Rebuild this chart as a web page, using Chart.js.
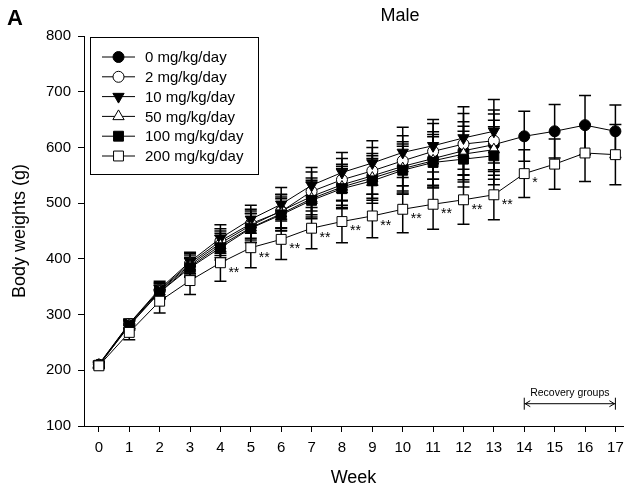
<!DOCTYPE html>
<html>
<head>
<meta charset="utf-8">
<script src="https://cdn.jsdelivr.net/npm/chart.js@4"></script>
<style>
  html, body { margin: 0; padding: 0; background: #fff; }
</style>
</head>
<body>
<canvas id="weightChart" width="631" height="490"></canvas>
<script>
// weeks and y ticks
const weeks = [0, 1, 2, 3, 4, 5, 6, 7, 8, 9, 10, 11, 12, 13, 14, 15, 16, 17];
const yTicks = [100, 200, 300, 400, 500, 600, 700, 800];
const groups = ["0 mg/kg/day", "2 mg/kg/day", "10 mg/kg/day", "50 mg/kg/day", "100 mg/kg/day", "200 mg/kg/day"];

// mean body weights (g)
const mean0 = [210, 283, 343, 389, 428, 460, 486, 512, 533, 549, 566, 580, 594, 605, 620, 629, 640, 629];
const mean2 = [210, 283, 344, 392, 432, 463, 485, 521, 542, 558, 576, 593, 606, 612];
const mean10 = [211, 284, 346, 395, 437, 471, 498, 532, 555, 572, 591, 603, 617, 629];
const mean50 = [209, 281, 341, 386, 424, 456, 481, 508, 529, 545, 562, 576, 588, 596];
const mean100 = [209, 280, 340, 384, 420, 455, 479, 505, 526, 540, 559, 573, 579, 585];
const mean200 = [208, 268, 324, 361, 393, 420, 435, 455, 467, 477, 489, 498, 506, 515, 553, 570, 590, 587];

// standard deviations
const sd0 = [5, 8, 13, 18, 22, 26, 30, 33, 37, 40, 44, 48, 52, 55, 45, 48, 53, 47];
const sd2 = [5, 8, 13, 18, 22, 26, 30, 35, 38, 42, 45, 50, 55, 55];
const sd10 = [5, 8, 14, 17, 24, 25, 30, 32, 36, 40, 45, 47, 56, 57];
const sd50 = [5, 8, 12, 17, 22, 26, 30, 33, 37, 40, 44, 47, 50, 53];
const sd100 = [5, 8, 12, 17, 22, 26, 29, 33, 36, 40, 43, 46, 50, 52];
const sd200 = [4, 13, 21, 25, 33, 36, 36, 37, 38, 39, 42, 45, 44, 45, 43, 45, 51, 54];

// significance marks for the 200 mg group
const sig200 = ["", "", "", "", "**", "**", "**", "**", "**", "**", "**", "**", "**", "**", "*", "", "", ""];

const FONT = "Arial, 'Liberation Sans', sans-serif";

function pts(means) {
  return means.map((v, i) => ({ x: weeks[i], y: v }));
}

const styles = [
  { shape: "circle", filled: true, r: 5.5 },
  { shape: "circle", filled: false, r: 5.5 },
  { shape: "down", filled: true, r: 6.5 },
  { shape: "up", filled: false, r: 6.5 },
  { shape: "rect", filled: true, r: 7 },
  { shape: "rect", filled: false, r: 7 }
];
const allMeans = [mean0, mean2, mean10, mean50, mean100, mean200];
const allSd = [sd0, sd2, sd10, sd50, sd100, sd200];

const datasets = groups.map((g, k) => {
  const s = styles[k];
  return {
    label: g,
    data: pts(allMeans[k]),
    sd: allSd[k],
    order: 5 - k,
    borderColor: "#000",
    borderWidth: 1,
    backgroundColor: s.filled ? "#000" : "#fff",
    pointBackgroundColor: s.filled ? "#000" : "#fff",
    pointBorderColor: "#000",
    pointBorderWidth: 1,
    pointRadius: s.r,
    pointStyle: s.shape === "rect" ? "rect" : (s.shape === "circle" ? "circle" : "triangle"),
    pointRotation: s.shape === "down" ? 180 : 0,
    tension: 0,
    fill: false
  };
});

function drawMarker(ctx, s, x, y) {
  ctx.beginPath();
  if (s.shape === "circle") {
    ctx.arc(x, y, s.r, 0, Math.PI * 2);
  } else if (s.shape === "rect") {
    const h = s.r * Math.SQRT1_2;
    ctx.rect(x - h, y - h, 2 * h, 2 * h);
  } else {
    const d = s.shape === "down" ? -1 : 1;
    const r = s.r;
    ctx.moveTo(x, y - d * r);
    ctx.lineTo(x + r * 0.866, y + d * r * 0.5);
    ctx.lineTo(x - r * 0.866, y + d * r * 0.5);
    ctx.closePath();
  }
  ctx.fillStyle = s.filled ? "#000" : "#fff";
  ctx.fill();
  ctx.strokeStyle = "#000";
  ctx.lineWidth = 1;
  ctx.stroke();
}

const errorBars = {
  id: "errorBars",
  beforeDatasetsDraw(chart) {
    const { ctx, scales: { x, y } } = chart;
    ctx.save();
    ctx.strokeStyle = "#000";
    ctx.lineWidth = 1.5;
    chart.data.datasets.forEach(ds => {
      ds.data.forEach((p, i) => {
        const sd = ds.sd[i];
        const px = x.getPixelForValue(p.x);
        const top = y.getPixelForValue(p.y + sd);
        const bot = y.getPixelForValue(p.y - sd);
        ctx.beginPath();
        ctx.moveTo(px, top); ctx.lineTo(px, bot);
        ctx.moveTo(px - 6, top); ctx.lineTo(px + 6, top);
        ctx.moveTo(px - 6, bot); ctx.lineTo(px + 6, bot);
        ctx.stroke();
      });
    });
    ctx.restore();
  }
};

const extras = {
  id: "extras",
  afterDraw(chart) {
    const { ctx, scales: { x, y } } = chart;
    ctx.save();
    ctx.fillStyle = "#000";

    // stars next to the 200 mg points
    ctx.font = "14px " + FONT;
    ctx.textAlign = "left";
    ctx.textBaseline = "middle";
    sig200.forEach((s, i) => {
      if (!s) return;
      ctx.fillText(s, x.getPixelForValue(weeks[i]) + 8, y.getPixelForValue(mean200[i]) + 10);
    });

    // recovery groups arrow
    const x1 = x.getPixelForValue(14), x2 = x.getPixelForValue(17);
    const ay = y.getPixelForValue(140);
    ctx.strokeStyle = "#000";
    ctx.lineWidth = 1;
    ctx.beginPath();
    ctx.moveTo(x1, ay - 6); ctx.lineTo(x1, ay + 6);
    ctx.moveTo(x2, ay - 6); ctx.lineTo(x2, ay + 6);
    ctx.moveTo(x1, ay); ctx.lineTo(x2, ay);
    ctx.moveTo(x1 + 6, ay - 3); ctx.lineTo(x1 + 1, ay); ctx.lineTo(x1 + 6, ay + 3);
    ctx.moveTo(x2 - 6, ay - 3); ctx.lineTo(x2 - 1, ay); ctx.lineTo(x2 - 6, ay + 3);
    ctx.stroke();
    ctx.font = "10.5px " + FONT;
    ctx.textAlign = "center";
    ctx.textBaseline = "alphabetic";
    ctx.fillText("Recovery groups", (x1 + x2) / 2, ay - 8);

    // title and panel letter
    ctx.font = "18px " + FONT;
    ctx.fillText("Male", 400, 21);
    ctx.font = "bold 22px " + FONT;
    ctx.textAlign = "left";
    ctx.fillText("A", 7, 25);

    // legend
    const bx = 90, by = 37, bw = 168, bh = 137;
    ctx.lineWidth = 1;
    ctx.fillStyle = "#fff";
    ctx.fillRect(bx, by, bw, bh);
    ctx.strokeRect(bx + 0.5, by + 0.5, bw, bh);
    ctx.font = "15px " + FONT;
    ctx.textBaseline = "middle";
    groups.forEach((g, k) => {
      const ry = 57 + k * 19.8;
      ctx.beginPath();
      ctx.moveTo(102, ry); ctx.lineTo(135, ry);
      ctx.strokeStyle = "#000";
      ctx.lineWidth = 1;
      ctx.stroke();
      drawMarker(ctx, styles[k], 118.5, ry);
      ctx.fillStyle = "#000";
      ctx.fillText(g, 145, ry + 1);
    });
    ctx.restore();
  }
};

new Chart(document.getElementById("weightChart"), {
  type: "line",
  data: { datasets: datasets },
  plugins: [errorBars, extras],
  options: {
    responsive: false,
    animation: false,
    devicePixelRatio: 1,
    layout: { padding: { top: 36, right: 5, left: 0, bottom: 0 } },
    plugins: {
      legend: { display: false },
      tooltip: { enabled: false },
      title: { display: false }
    },
    scales: {
      x: {
        type: "linear",
        min: -0.49,
        max: 17.25,
        afterBuildTicks: s => { s.ticks = weeks.map(v => ({ value: v })); },
        afterFit: s => { s.height = 64; },
        grid: { drawOnChartArea: false, color: "#000", tickLength: 6 },
        border: { color: "#000", width: 1 },
        ticks: { color: "#000", font: { size: 15, family: FONT }, padding: 7, maxRotation: 0, autoSkip: false },
        title: { display: true, text: "Week", color: "#000", font: { size: 18, family: FONT }, padding: { top: 6, bottom: 1 } }
      },
      y: {
        min: 100,
        max: 800,
        afterBuildTicks: s => { s.ticks = yTicks.map(v => ({ value: v })); },
        afterFit: s => { s.width = 84; },
        grid: { drawOnChartArea: false, color: "#000", tickLength: 6 },
        border: { color: "#000", width: 1 },
        ticks: { color: "#000", font: { size: 15, family: FONT }, padding: 7 },
        title: { display: true, text: "Body weights (g)", color: "#000", font: { size: 18, family: FONT }, padding: { top: 9, bottom: 0 } }
      }
    }
  }
});
</script>
</body>
</html>
